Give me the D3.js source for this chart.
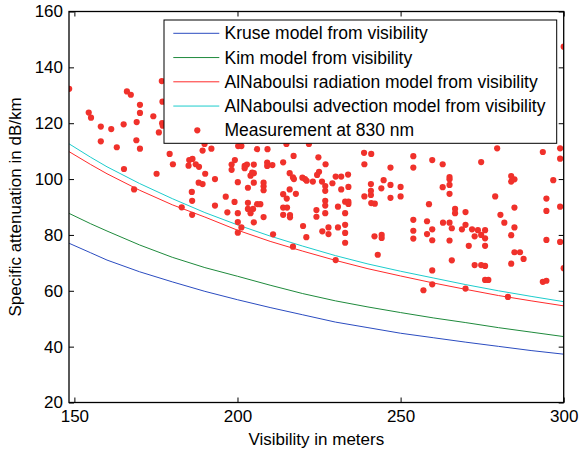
<!DOCTYPE html>
<html>
<head>
<meta charset="utf-8">
<script src="https://cdn.jsdelivr.net/npm/d3@7"></script>
<style>
  body { margin: 0; background: #fff; }
  svg { font-family: "Liberation Sans", Arial, sans-serif; }
</style>
</head>
<body>
<script>
// model curves
var visibility = [148.4, 155, 160, 170, 180, 190, 200, 210, 220, 230, 240, 250, 260, 270, 280, 290, 300];
var kruse     = [77.0, 73.6, 71.0, 66.8, 63.2, 59.8, 56.8, 54.0, 51.4, 48.8, 46.8, 44.8, 43.2, 41.6, 40.1, 38.6, 37.3];
var kim       = [87.7, 84.0, 81.4, 76.4, 72.0, 68.3, 65.2, 62.0, 59.0, 56.4, 54.2, 52.2, 50.3, 48.6, 46.8, 45.2, 43.6];
var radiation = [109.8, 105.2, 101.9, 96.0, 90.8, 86.4, 81.7, 77.7, 74.2, 70.9, 67.9, 65.3, 62.8, 60.5, 58.3, 56.4, 54.6];
var advection = [112.6, 107.8, 104.4, 98.4, 93.0, 88.0, 83.6, 79.6, 76.0, 72.6, 69.6, 67.0, 64.6, 62.2, 60.0, 58.0, 56.1];

// measurements at 830 nm
var measVis = [148.4,166.1,167.3,170.1,170.1,154.4,155.1,158.1,161.3,165.1,169.1,174.2,176.8,177.0,176.9,177.1,175.9,158.1,163.0,169.0,170.1,165.2,175.2,168.3,179.2,180.2,185.2,186.2,185.0,187.2,188.2,189.3,192.0,190.1,188.1,189.3,193.1,186.0,196.4,198.2,198.2,189.9,186.1,186.1,182.9,193.1,196.9,
  200.2,201.2,206.0,209.2,215.0,221.9,238.8,241.0,217.2,224.8,199.2,202.2,202.9,202.2,205.0,209.1,209.1,210.7,214.0,227.0,238.9,246.9,204.5,204.0,205.0,216.0,217.0,217.3,219.9,220.7,221.2,223.1,224.4,225.0,230.1,231.8,233.9,225.9,226.9,226.9,229.1,231.8,234.0,244.8,244.1,246.9,250.0,240.9,240.9,240.9,238.9,246.9,250.0,241.0,242.1,200.1,205.0,203.2,208.0,208.0,208.0,216.0,214.0,215.1,217.9,199.1,203.2,206.0,207.0,203.2,204.8,200.1,204.0,208.0,205.0,200.1,201.2,200.1,214.0,215.2,214.0,216.1,216.1,220.1,221.1,210.9,217.0,224.2,224.2,226.9,226.9,226.9,226.0,227.9,227.9,230.8,230.8,233.0,234.0,234.0,233.0,233.0,233.0,233.0,230.1,242.0,244.2,244.2,243.0,
  279.6,293.6,298.9,298.9,253.9,253.9,259.7,262.9,274.7,265.0,265.0,265.0,265.0,262.9,283.9,283.9,284.9,296.8,279.0,294.7,294.7,298.9,258.7,266.7,266.7,269.9,284.9,280.6,281.8,253.9,258.1,263.0,265.0,265.7,268.8,269.9,271.9,273.7,275.9,274.7,275.9,272.7,253.9,253.9,258.1,259.7,259.7,265.0,270.9,275.9,284.9,283.9,294.7,298.9,284.9,286.6,287.7,265.7,283.9,272.7,274.7,275.9,300.0,259.7,275.9,276.9,293.6,294.7,259.7,257.0,269.9,282.9,300.0];
var measAtt = [132.3,131.4,130.2,126.6,123.7,123.8,122.0,118.8,117.9,119.6,120.4,122.5,135.1,127.7,120.0,119.1,116.7,113.5,111.4,113.9,110.9,103.6,101.9,96.3,109.0,105.3,106.8,107.2,104.8,105.3,104.4,110.2,110.9,101.9,98.7,98.2,100.0,95.4,93.7,105.2,103.3,112.6,92.2,87.2,89.9,90.5,88.1,
  111.8,111.8,110.7,110.7,112.6,112.6,109.4,109.0,108.3,107.8,106.8,104.7,105.2,103.9,105.2,105.9,104.7,105.0,106.0,105.3,105.3,104.1,102.3,101.2,102.1,102.1,100.6,100.0,100.5,100.0,99.4,99.1,101.5,102.6,100.9,100.9,101.6,99.1,97.5,95.8,98.5,96.3,97.2,99.6,96.7,97.9,97.2,98.2,95.8,94.3,93.8,93.3,93.8,91.4,91.2,98.9,98.7,96.9,98.7,97.4,96.0,96.3,94.6,93.0,94.7,91.8,91.5,91.0,91.0,89.3,89.3,87.8,87.8,86.4,84.5,84.6,82.7,80.8,89.8,89.8,87.2,87.1,86.3,83.2,79.2,80.2,75.8,88.9,86.5,92.2,90.5,87.8,81.3,82.7,80.3,90.1,82.7,91.9,91.9,91.1,87.8,83.6,80.7,77.2,71.0,79.5,80.0,78.9,72.9,
  111.0,109.7,111.0,107.3,108.2,104.1,106.8,105.3,106.1,100.7,99.9,97.9,94.7,97.1,101.1,99.1,99.9,99.6,93.8,93.0,88.6,90.1,91.0,89.3,87.8,88.2,89.8,87.2,84.4,85.4,84.9,84.4,84.4,82.4,82.0,83.6,82.0,81.7,81.7,80.0,78.8,79.5,81.5,78.7,80.3,82.0,78.1,78.0,76.1,76.1,82.7,79.9,78.2,77.5,73.8,73.8,71.4,70.9,69.7,69.2,69.2,68.9,68.1,67.3,63.9,63.9,63.2,63.6,62.3,60.2,60.8,57.8,147.4];

var xTicks = [150, 200, 250, 300];
var yTicks = [20, 40, 60, 80, 100, 120, 140, 160];
var legendLabels = ["Kruse model from visibility", "Kim model from visibility",
  "AlNaboulsi radiation model from visibility", "AlNaboulsi advection model from visibility",
  "Measurement at 830 nm"];

var width = 580, height = 453;
var plotL = 69, plotR = 563.7, plotT = 11.5, plotB = 402.5;

var x = d3.scaleLinear().domain([148.35, 300]).range([plotL, plotR]);
var y = d3.scaleLinear().domain([20, 160]).range([plotB, plotT]);

var svg = d3.select("body").append("svg")
  .attr("width", width)
  .attr("height", height)
  .style("background", "#fff");

svg.append("clipPath").attr("id", "plot")
  .append("rect").attr("x", plotL).attr("y", plotT)
  .attr("width", plotR - plotL).attr("height", plotB - plotT);

var models = [
  { values: kruse, color: "#2b4cc0" },
  { values: kim, color: "#1f8a3c" },
  { values: radiation, color: "#ff2b2b" },
  { values: advection, color: "#1ccccc" }
];

var line = d3.line()
  .x(function(d) { return x(d[0]); })
  .y(function(d) { return y(d[1]); });

var plot = svg.append("g").attr("clip-path", "url(#plot)");

models.forEach(function(m) {
  plot.append("path")
    .datum(visibility.map(function(v, i) { return [v, m.values[i]]; }))
    .attr("d", line)
    .attr("fill", "none")
    .attr("stroke", m.color)
    .attr("stroke-width", 1);
});

plot.selectAll("circle.meas").data(measVis).enter()
  .append("circle")
  .attr("class", "meas")
  .attr("cx", function(d) { return x(d); })
  .attr("cy", function(d, i) { return y(measAtt[i]); })
  .attr("r", 3.1)
  .attr("fill", "#f0312b");

// axes, ticks pointing inward on all four sides
function styleAxis(g) {
  g.select(".domain").remove();
  g.selectAll("line").attr("stroke", "#000");
  g.selectAll("text").attr("fill", "#000").style("font-size", "17px")
    .style("font-family", "'Liberation Sans', Arial, sans-serif");
}

svg.append("g").attr("transform", "translate(0," + plotB + ")")
  .call(d3.axisBottom(x).tickValues(xTicks).tickSize(-5).tickPadding(7))
  .call(styleAxis);
svg.append("g").attr("transform", "translate(0," + plotT + ")")
  .call(d3.axisTop(x).tickValues(xTicks).tickSize(-5).tickFormat(""))
  .call(styleAxis);
svg.append("g").attr("transform", "translate(" + plotL + ",0)")
  .call(d3.axisLeft(y).tickValues(yTicks).tickSize(-5).tickPadding(6))
  .call(styleAxis);
svg.append("g").attr("transform", "translate(" + plotR + ",0)")
  .call(d3.axisRight(y).tickValues(yTicks).tickSize(-5).tickFormat(""))
  .call(styleAxis);

svg.append("rect")
  .attr("x", plotL).attr("y", plotT)
  .attr("width", plotR - plotL).attr("height", plotB - plotT)
  .attr("fill", "none").attr("stroke", "#000").attr("stroke-width", 1.3);

svg.append("text")
  .attr("x", (plotL + plotR) / 2).attr("y", 445)
  .attr("text-anchor", "middle")
  .style("font-size", "17px")
  .text("Visibility in meters");

svg.append("text")
  .attr("transform", "translate(21," + ((plotT + plotB) / 2) + ") rotate(-90)")
  .attr("text-anchor", "middle")
  .style("font-size", "17px")
  .text("Specific attenuation in dB/km");

// legend
var legend = svg.append("g");
legend.append("rect")
  .attr("x", 164).attr("y", 20)
  .attr("width", 392.7).attr("height", 123.3)
  .attr("fill", "#fff").attr("stroke", "#000").attr("stroke-width", 1);

var rowY = d3.scalePoint().domain(d3.range(legendLabels.length)).range([33.3, 130.3]);

legendLabels.forEach(function(label, i) {
  var yy = rowY(i);
  if (i < models.length) {
    legend.append("line")
      .attr("x1", 173.3).attr("x2", 219.3)
      .attr("y1", yy).attr("y2", yy)
      .attr("stroke", models[i].color).attr("stroke-width", 1);
  } else {
    legend.append("circle")
      .attr("cx", 197.3).attr("cy", yy).attr("r", 3.1)
      .attr("fill", "#f0312b");
  }
  legend.append("text")
    .attr("x", 224.5).attr("y", yy)
    .attr("dy", "0.35em")
    .style("font-size", "17.5px")
    .text(label);
});
</script>
</body>
</html>
